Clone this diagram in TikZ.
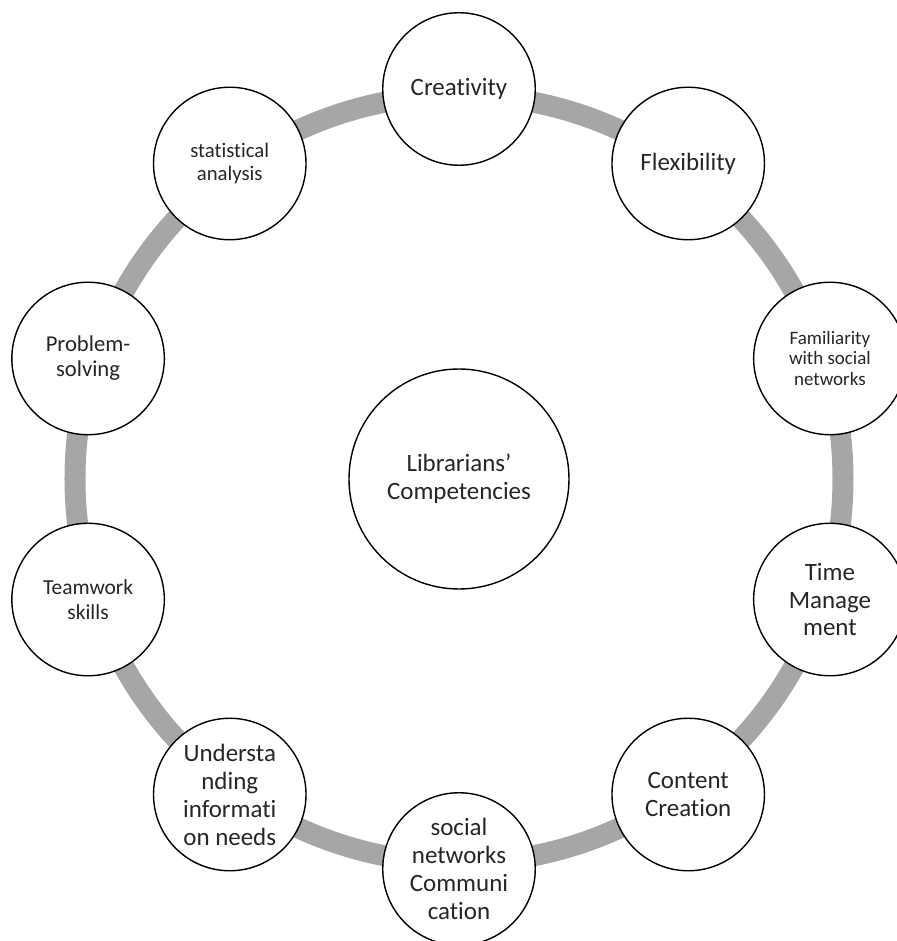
\documentclass[tikz,border=0pt]{standalone}
\usepackage{fontspec}
\setmainfont{Carlito}[Ligatures = {TeX, NoCommon}]
\begin{document}
\begin{tikzpicture}[
  skill/.style = {circle, draw = black, line width = 0.8pt, fill = white, minimum size = 3.05cm, inner sep = 0pt, align = center, text = black!85, font = \fontsize{14.2}{15.9}\selectfont},
  hub/.style = {skill, minimum size = 4.4cm}]
\pgfmathsetmacro\ringr{7.8}
\pgfmathsetmacro\bandr{7.68}
\useasboundingbox (-9.18,-9.24) rectangle (8.74,9.58);
\definecolor{bandcolor}{RGB}{166,166,166}
\draw [draw = bandcolor, line width = 0.42cm] (0,0) circle (\bandr);
\node[hub] (comp) at (0,0) {Librarians'\\Competencies};
\node[skill] (creat) at (90:\ringr) {Creativity};
\node[skill] (flex) at (54:\ringr) {Flexibility};
\node[skill, font = \fontsize{10.8}{11.5}\selectfont] (famil) at (18:\ringr) {Familiarity\\with social\\networks};
\node[skill] (time) at (-18:\ringr) {Time\\Manage\\ment};
\node[skill] (content) at (-54:\ringr) {Content\\Creation};
\node[skill] (snc) at (-90:\ringr) {social\\networks\\Communi\\cation};
\node[skill] (needs) at (-126:\ringr) {Understa\\nding\\informati\\on needs};
\node[skill, font = \fontsize{12.2}{13.8}\selectfont] (team) at (-162:\ringr) {Teamwork\\skills};
\node[skill, font = \fontsize{12.9}{14.2}\selectfont] (prob) at (162:\ringr) {Problem-\\solving};
\node[skill, font = \fontsize{11.8}{13}\selectfont] (stat) at (126:\ringr) {statistical\\analysis};
\end{tikzpicture}
\end{document}
